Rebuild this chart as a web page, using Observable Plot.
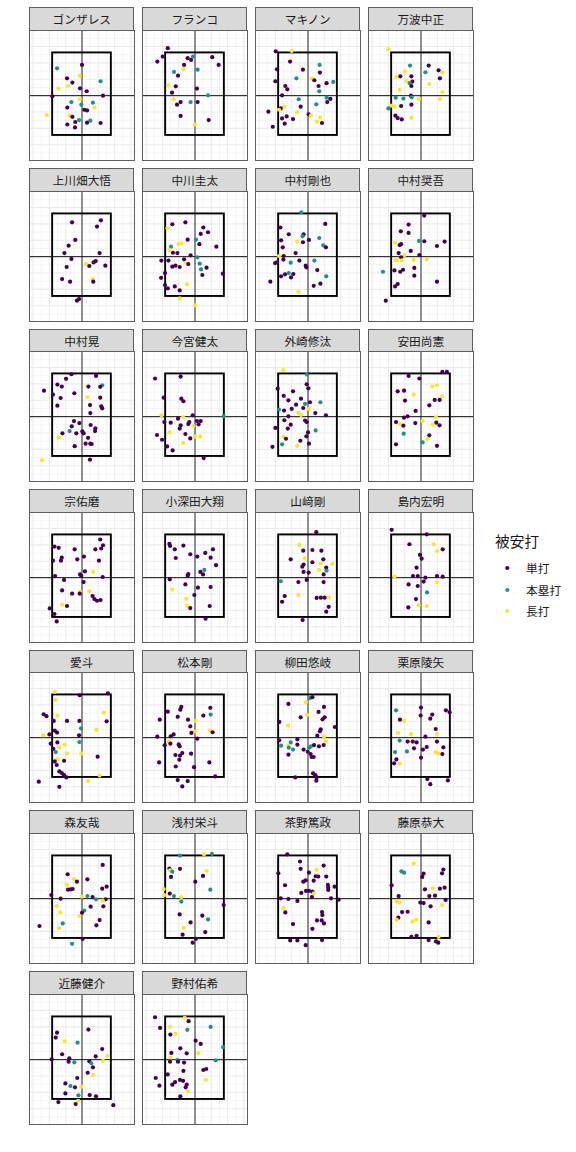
<!DOCTYPE html>
<html>
<head>
<meta charset="utf-8">
<script src="https://cdn.jsdelivr.net/npm/d3@7"></script>
<script src="https://cdn.jsdelivr.net/npm/@observablehq/plot@0.6"></script>
<style>
  html, body { margin: 0; padding: 0; background: #ffffff; }
  #wrap { position: relative; width: 576px; height: 1152px; background: #ffffff;
          font-family: "Noto Sans CJK JP", "Noto Sans", sans-serif; color: #1a1a1a; }
  .strip { position: absolute; box-sizing: border-box; background: #d9d9d9;
           border: 1px solid #5e5e5e; text-align: center; font-size: 11.7px; color: #1a1a1a; }
  .panel { position: absolute; }
  .panel svg { display: block; }
  .legend { position: absolute; left: 495px; top: 528px; width: 80px; height: 100px; }
  .legend .title { position: absolute; left: 0; top: 4px; font-size: 14.7px; line-height: 18px; color: #1a1a1a; white-space: nowrap; }
  .legend .lab { position: absolute; left: 31px; font-size: 11.7px; line-height: 16px; white-space: nowrap; color: #1a1a1a; }
  .legend svg { position: absolute; left: 0; display: block; }
</style>
</head>
<body>
<div id="wrap"></div>
<script>
// ---- data ----
const players = [
  "ゴンザレス", "フランコ", "マキノン", "万波中正",
  "上川畑大悟", "中川圭太", "中村剛也", "中村奨吾",
  "中村晃", "今宮健太", "外崎修汰", "安田尚憲",
  "宗佑磨", "小深田大翔", "山﨑剛", "島内宏明",
  "愛斗", "松本剛", "柳田悠岐", "栗原陵矢",
  "森友哉", "浅村栄斗", "茶野篤政", "藤原恭大",
  "近藤健介", "野村佑希"
];
const hitTypes = ["単打", "本塁打", "長打"];
const hitColors = ["#440154", "#21908C", "#FDE725"];
// strike zone (same units as the pitch locations)
const zoneX = [-18, 18];
const zoneY = [-24.3, 26.1];
const xLimits = [-32.2, 32.2];
const yLimits = [-39.6, 39.8];
const majorTicks = [-30, -20, -10, 0, 10, 20, 30];
const minorTicksX = [-25, -15, -5, 5, 15, 25];
const minorTicksY = [-35, -25, -15, -5, 5, 15, 25, 35];

// pitch locations of hits allowed: [x, y, type index] per player (same order as players)
const hits = [
 [[-15.3,16.7,1],[0,18.8,0],[-1.4,12.2,2],[-9.2,10.6,0],[-5.9,8,0],[11.4,8.8,1],[-14.5,4.3,2],[-8.6,5.9,2],[-1.2,4.5,0],[2.9,2.7,0],[-18.2,-0.4,0],[12.9,0,0],[-1.4,-2.2,2],[-6.5,-3.9,1],[6.7,-4.3,1],[-0.4,-5.5,1],[7.8,-7.3,2],[-9,-7.3,0],[1.4,-8.6,0],[3.1,-9,0],[-21.6,-11.8,2],[-7.6,-12.2,2],[-5.9,-12.9,0],[-1.8,-14.9,1],[5.1,-15.3,1],[-4.1,-16.1,0],[-9,-17.6,0],[3.1,-16.5,0],[11.4,-16.7,0],[-4.3,-19.4,0]],
 [[-16.7,29,0],[-19.8,23.9,0],[-23.1,20.8,0],[-4.5,22.9,0],[-2.4,21.8,0],[-1.2,23.9,1],[10.6,23.5,0],[14.5,18.8,0],[-6.7,18.8,0],[-7.1,16.1,2],[1.6,15.9,1],[-12.9,14.5,1],[-10.4,12.2,0],[-16.5,6.3,2],[-11.8,5.7,0],[1.2,4.3,0],[-14.1,1.8,0],[8,0.2,1],[-13.1,-2.2,2],[-8.8,-3.9,0],[-2.7,-3.9,1],[1.6,-3.9,0],[-11,-5.5,0],[-8.8,-12.4,0],[8.4,-14.9,0],[-0.2,-17.6,2]],
 [[-19.8,27.1,0],[-10,27.3,2],[-11,20.8,0],[7.1,18.8,1],[-19,16.1,0],[-3.1,15.9,0],[7.3,14.1,0],[-7.1,10.6,1],[2.4,10.4,2],[3.9,9.4,0],[-20,8.8,0],[15.5,8.4,1],[11.4,7.6,0],[-13.9,5.9,0],[-12.7,3.9,0],[6.5,5.9,0],[6.9,2.7,1],[-15.9,0.2,0],[11.4,-1.2,1],[13.7,-2,0],[11.8,-3.9,0],[-5.7,-2.2,1],[5.1,-5.3,1],[-4.5,-6.7,0],[-14.7,-6.9,2],[-16.7,-7.8,0],[-17.8,-8.6,2],[-24.3,-9.8,0],[-6.7,-10.2,2],[0.4,-11.4,0],[1.8,-12.2,2],[7.3,-13.3,2],[-13.1,-12.7,0],[-15.9,-13.9,0],[-9.2,-14.3,0],[5.5,-15.9,2],[8.6,-16.7,0],[-14.3,-17.1,0],[-21.6,-19,0]],
 [[-20,28.4,2],[-6.7,18.4,1],[4.7,18.4,0],[-9.8,14.9,2],[2.7,14.3,1],[10.8,15.5,0],[13.1,14.3,2],[-12.7,11.8,0],[-5.9,11.8,0],[-15.3,11.4,2],[11.6,10.6,0],[-8.8,8.8,2],[-5.3,8.6,0],[-6.9,7.6,1],[5.1,7.1,2],[-5.9,5.9,0],[-13.1,3.5,2],[13.1,2.2,2],[-6.1,0,0],[-15.5,-1.2,1],[-10.8,-1.8,1],[-5.7,-1,1],[-1.2,-2,2],[11.6,-2,2],[-18.4,-6.1,2],[-16.3,-6.7,2],[-20,-7.8,1],[-12.2,-6.3,0],[-5.9,-5.5,0],[-15.7,-12.2,0],[-14.3,-13.7,0],[-11.8,-14.5,0],[-5.9,-13.5,2]],
 [[-6.1,21,0],[11.6,22.2,0],[9.2,18.4,0],[-4.1,10.2,0],[-8.2,6.7,0],[-10.8,2.2,0],[10.8,2.2,0],[-6.5,-1.4,0],[8.4,-2.7,0],[7.1,-3.5,0],[2.4,-4.5,2],[4.5,-5.7,0],[14.3,-5.5,0],[-9.4,-6.3,0],[-12.2,-13.7,0],[-7.3,-15.3,0],[6.5,-13.7,2],[6.9,-15.3,0],[-3.1,-26.9,0],[-1.8,-25.9,0]],
 [[-13.9,19.8,0],[-5.9,21,0],[-16.9,17.3,2],[5.1,17.8,0],[8,14.9,0],[3.5,13.9,0],[-4.5,10.4,0],[0.6,10.4,1],[-10,7.6,2],[-8.2,8.2,2],[-14.7,6.1,1],[2.7,7.6,0],[13.1,6.1,0],[-15.7,4.1,2],[-13.5,2.4,0],[-10.8,2.2,0],[-2.7,0.8,0],[1.4,-0.4,1],[-6.7,-1.6,0],[-20.6,-2.4,0],[-16.3,-2.4,0],[2.9,-4.3,1],[-5.5,-3.9,2],[-4.1,-4.5,0],[-13.9,-6.1,0],[-12,-5.5,0],[-9.4,-6.3,0],[7.1,-6.7,0],[3.7,-7.8,1],[-18.4,-10,0],[4.5,-11.2,0],[17.1,-10.4,0],[-20.8,-12.9,0],[-18.4,-17.3,0],[-4.9,-16.9,2],[-16.7,-19.4,0],[-12.4,-18.2,0],[-9.4,-20.6,0],[-9.4,-25.5,2],[0,-29.8,2]],
 [[-4.1,27.1,1],[10.6,20,0],[-16.9,17.8,0],[-11.8,13.7,0],[-2.7,13.7,0],[-3.3,12.4,1],[6.9,11.4,1],[-6.7,9.2,2],[-3.1,8.8,0],[0.6,10.2,0],[9.4,6.9,1],[11,5.7,0],[-16.5,10,0],[-15.5,5.7,0],[-7.6,2.2,0],[-14.9,0.4,0],[-17.8,0.4,2],[-15.1,-1.8,0],[-5.3,-2.4,0],[3.9,-2.4,1],[-10.6,-3.7,1],[-19,-3.5,0],[-20.2,-3.9,0],[-1.4,-5.5,0],[-1,-6.5,0],[5.7,-8.2,0],[-11.8,-10,1],[-14.1,-10.8,0],[-9,-10.6,0],[-16.5,-12,0],[-10.4,-12.7,0],[11.2,-12,1],[-23.1,-15.3,0],[7.6,-16.5,0],[3.5,-17.8,0],[-5.9,-21.4,2]],
 [[2,25.1,0],[-7.6,19.6,0],[-12.4,15.5,0],[-7.6,14.5,0],[-1.2,9.6,1],[2,9.4,0],[14.5,9.2,0],[-12.2,7.6,0],[-15.9,8.4,2],[-13.1,7.1,0],[9.8,6.5,0],[-6.3,3.5,0],[-13.7,2.2,0],[-10.2,1,2],[-1,1,0],[-12.2,-0.4,0],[-15.7,-2.2,2],[-14.7,-2.2,2],[-11.8,-2.2,2],[-4.5,-2,2],[3.5,-1.6,2],[-16.3,-8.4,0],[-12.7,-9.2,0],[-11,-8,0],[-4.1,-6.9,0],[-23.3,-9.2,1],[-4.1,-11.6,0],[9.8,-15.3,0],[-14.3,-16.7,0],[-15.9,-18.2,0],[-21.6,-26.9,0]],
 [[-6.5,25.9,0],[8.6,24.9,0],[-9.8,23.1,0],[12.4,19.2,1],[-15.1,19.6,0],[-12.4,18.4,0],[3.9,18.4,0],[11.2,18.2,0],[-23.3,15.9,0],[-17.8,13.5,0],[-4.7,14.3,0],[3.3,12,2],[-13.1,11.4,0],[11.2,11.6,0],[4.9,7.1,0],[-15.1,6.7,0],[11.8,6.3,0],[12.4,5.1,0],[5.1,2.2,0],[-4.9,-2.7,0],[-1.6,-3.9,0],[-6.3,-5.9,0],[5.3,-5.1,0],[8.2,-7.1,0],[8,-8.8,0],[-7.6,-8.8,1],[-3.5,-10.2,0],[0.2,-9,0],[1,-10.2,0],[-12,-10.2,0],[-14.3,-12.7,2],[3.7,-12.9,0],[2.2,-16.5,0],[5.1,-16.5,0],[5.9,-16.7,0],[-4.5,-18,0],[4.9,-26.3,0],[-24.5,-26.7,2]],
 [[-24.5,23.3,0],[-8.8,24.5,0],[-19.2,11.6,0],[-8.4,11,0],[-7.1,9.4,0],[-20.6,0.8,2],[-7.3,-0.2,2],[-1.4,0.8,0],[-10.4,-1.2,0],[-18.8,-3.3,0],[-14.9,-3.7,0],[-4.1,-4.5,0],[-3.5,-3.3,0],[1.2,-2.7,0],[3.5,-2.7,0],[2.2,-4.7,0],[17.6,0.2,1],[-1,-5.7,2],[-8.8,-5.3,0],[-9.4,-7.3,0],[-15.7,-9.6,2],[-5.9,-10.6,0],[-23.3,-11.2,0],[0,-12.2,2],[3.1,-12.2,2],[-2.9,-13.3,0],[-20.2,-14.1,0],[-7.3,-16.1,2],[-17.1,-18.2,0],[-13.7,-20.6,0],[5.3,-25.3,0]],
 [[-15.1,28.4,2],[-0.6,25.7,1],[-0.8,19.8,0],[0.2,17.3,0],[-18.6,17.1,0],[-9.2,15.5,0],[-14.9,12.7,0],[-4.3,11,0],[-12,10,0],[1.2,8.8,0],[7.6,8.8,1],[-1.8,7.8,1],[-7.3,7.3,0],[-10,4.7,0],[0.6,4.7,2],[-2.9,5.3,0],[4.5,2.2,0],[-5.9,2.4,2],[-4.3,1,2],[-17.8,4.3,1],[-14.7,3.7,0],[-12,0.2,0],[11,0.8,0],[-14.5,-2.2,0],[-1.8,-2.4,0],[-0.8,-3.3,0],[-10.6,-4.9,0],[-20,-6.9,0],[-12.4,-7.3,0],[4.7,-8.4,1],[0,-9.6,0],[-15.1,-12.2,2],[-13.5,-13.5,0],[-1,-12,0],[-4.7,-14.7,0],[0.6,-16.5,0],[-15.9,-16.9,1],[-21.8,-18.4,0],[-6.7,-17.8,2]],
 [[13.1,27.3,0],[15.9,27.3,0],[-7.6,24.9,0],[-1,23.3,0],[6.9,18.4,2],[9.8,19.2,2],[-14.3,15.5,0],[-10.4,15.9,0],[-4.5,13.5,2],[12.9,12.4,2],[8.4,10.2,0],[11.4,10.2,0],[-9.8,9.8,0],[5.1,6.9,0],[-3.3,3.5,0],[-8.2,0.2,0],[-10.4,-0.6,0],[9.2,-0.2,2],[-15.3,-3.3,0],[-13.1,-4.5,2],[-10.8,-5.5,0],[-3.5,-3.9,0],[1,-2.7,2],[9.4,-3.7,0],[11.4,-5.3,0],[7.1,-4.9,2],[-10.6,-10.4,1],[5.1,-11.4,0],[3.9,-13.7,2],[1,-15.7,1],[-15.3,-16.9,0],[9.8,-17.8,0]],
 [[11.2,23.3,0],[12.9,19.8,0],[11.8,17.8,0],[-16.9,19,0],[-14.3,18.2,0],[-4.5,17.3,0],[8.2,17.3,0],[1.2,12.9,0],[-12.4,12.2,0],[-12.9,10.4,0],[-17.8,10.4,0],[-2.9,11.2,0],[10.4,10.4,0],[1.8,3.9,0],[6.9,3.5,2],[-1.2,2,0],[-0.4,1,0],[-16.5,1,0],[12.7,0.4,0],[-11,-1.4,0],[1,-2.7,0],[-12.2,-7.8,0],[4.5,-8.2,2],[-1.2,-8.6,2],[-6.1,-9.8,0],[-1.4,-9.8,0],[6.5,-11.2,0],[7.6,-13.1,0],[9.2,-14.1,0],[11.4,-13.7,0],[-12.2,-16.5,2],[-9.2,-17.3,0],[-19.8,-18.8,0],[-16.9,-22.2,0],[-15.5,-26.7,0]],
 [[-15.7,20.6,0],[-15.3,19.4,0],[-7.1,19.6,0],[-12.4,17.3,0],[11,17.3,0],[6.3,15.1,0],[-2.9,14.3,0],[1.4,12.9,0],[9.6,12.2,0],[-11.8,12,0],[12.9,7.6,0],[5.7,4.7,1],[3.3,3.5,0],[4.9,2,0],[-4.1,2.2,0],[-4.5,1.2,0],[-15.5,-1,0],[-5.9,-4.1,0],[1.8,-6.1,0],[9.6,-5.7,0],[-13.9,-7.3,2],[-0.4,-10.6,0],[-5.3,-12.9,2],[-4.9,-17.1,2],[-2.9,-18.6,0],[9,-17.3,0],[6.5,-25.1,0]],
 [[5.1,27.8,0],[-5.3,20,2],[-2.9,16.5,0],[2.7,16.9,0],[8.2,16.5,0],[-2.2,12,2],[-10.6,11.2,0],[9.4,11.2,0],[2.7,9.4,0],[7.8,8.6,2],[14.9,8.4,2],[-2.7,8,0],[-3.5,6.7,0],[11.2,6.1,0],[6.7,4.7,2],[11.4,4.3,1],[-2.7,3.5,0],[0.4,3.1,0],[9.6,2,0],[-16.7,-2.2,1],[-5.9,-2.7,0],[-0.8,-1.4,0],[9.6,-2.7,0],[-14.3,-11.2,0],[-15.9,-14.7,0],[-5.9,-10.6,2],[5.3,-12.4,0],[7.9,-12.2,0],[10.2,-12.2,0],[12.9,-12.2,2],[12.7,-17.8,0],[11.2,-20.8,0],[-3.3,-25.9,0]],
 [[-18,29.2,0],[3.5,26.5,0],[-7.1,20.4,0],[7.8,20.4,2],[9.8,16.3,2],[13.3,17.3,0],[-0.6,13.9,0],[0.4,11.6,0],[-2.7,6.1,0],[-16.3,0.6,2],[-4.9,1,0],[-2,1,0],[2.7,0,0],[9.8,1,0],[13.3,0.6,0],[1.6,-2.4,0],[9.8,-2.7,2],[-7.6,-4.1,0],[-2,-5.1,0],[3.7,-9,1],[-3.1,-13.1,0],[-1.4,-16.9,2],[3.5,-17.3,2],[-7.8,-18.2,0]],
 [[-16.7,28,2],[-1.4,25.9,0],[15.9,27.1,0],[-16.3,23.1,2],[-23.5,14.3,0],[-21.8,13.1,0],[-15.1,13.5,2],[13.3,15.3,2],[-17.3,10.2,0],[-9.2,10.2,0],[-1.6,10.2,0],[15.1,10,0],[-0.6,5.7,1],[8.8,4.7,2],[-16.7,4.3,0],[-15.3,3.1,0],[-20,2,0],[-23.7,1.4,2],[-1.8,1.4,0],[-1.6,-2.7,1],[-19.2,-3.7,0],[-15.1,-2.9,0],[-10.6,-4.3,2],[-13.9,-5.9,2],[-17.6,-6.9,0],[-16.1,-8.8,1],[-9.2,-9.8,2],[-0.4,-9.6,2],[9.6,-11.6,0],[-14.9,-13.1,2],[-11,-14.1,0],[-16.7,-14.5,0],[-15.5,-16.7,0],[-13.9,-20.6,0],[-12.4,-21.6,0],[-11,-22.9,0],[-9.6,-24.3,0],[10.8,-23.1,2],[3.7,-26.5,2],[-26.5,-26.9,0],[-13.9,-30,0]],
 [[-8.4,18.8,0],[-9,17.1,0],[9.4,18.2,0],[9.6,14.1,1],[5.1,13.5,0],[-16.7,15.9,0],[-10.6,12.7,0],[-4.3,11,0],[-21.6,11,0],[0.4,10.2,2],[-2.9,6.9,0],[-0.2,3.9,2],[-2.2,2.9,0],[9.2,4.5,2],[10.8,3.3,0],[-13.1,2,0],[-14.9,0.8,0],[-23.1,0.6,0],[1.4,-0.6,0],[-16.1,-2.2,2],[-15.1,-3.7,0],[-10,-4.1,0],[-9.4,-5.3,0],[-18.6,-4.7,0],[-7.8,-9.4,0],[-2.4,-9.8,0],[-12,-10.6,0],[-9.2,-11,0],[-9.6,-13.5,0],[-22,-15.1,0],[8.8,-15.1,0],[-11.8,-17.6,0],[-0.6,-18,0],[12.4,-23.7,0],[-10.6,-25.9,0],[-4.5,-26.5,0],[-7.8,-29.8,0]],
 [[1.2,24.1,1],[2.7,24.7,0],[-1.4,21.6,2],[-12,20.6,0],[9.8,18.8,0],[6.5,15.7,0],[10.2,12.4,0],[8.9,11.2,0],[-4.5,12.4,0],[-0.6,13.9,2],[-17.6,9.6,0],[-12.2,7.3,2],[16.5,6.5,0],[7.8,5.1,0],[7.3,3.9,0],[5.7,1.2,0],[9.8,0.6,2],[-6.5,-1,0],[-17.6,-1.6,0],[-10.6,-2.9,1],[11,-2.4,2],[-16.5,-4.9,1],[-12,-4.9,2],[-11.8,-6.1,1],[-9.2,-7.3,1],[-6.5,-4.3,0],[-2.7,-7.3,0],[0.8,-6.1,1],[1.8,-5.3,1],[3.7,-4.5,0],[6.7,-5.3,0],[9.6,-4.5,0],[-0.2,-8.6,0],[1.6,-10,0],[3.5,-11.8,0],[2.2,-11.8,0],[-12,-10.4,0],[3.1,-21.8,0],[4.5,-22.9,0],[5.3,-24.3,0],[5.1,-26.3,0],[-7.8,-24.3,0]],
 [[-15.3,16.7,1],[0,18.4,0],[15.3,16.7,0],[17.6,15.5,0],[6.9,14.1,0],[-0.2,13.5,0],[5.7,11.6,0],[-12.9,11,0],[-10.4,10.2,2],[9,5.3,0],[-14.1,2.9,2],[-6.1,2.2,2],[9.8,2.2,2],[2.7,0.6,0],[-13.1,-1.8,1],[-8.2,-2.4,0],[-5.1,-2.4,0],[-2.7,-2.9,0],[9.8,-2.4,0],[-4.3,-6.5,0],[1.2,-7.3,0],[3.5,-5.7,0],[13.7,-5.9,0],[-15.9,-8.8,1],[-8.6,-8.4,1],[9,-8.8,2],[10.8,-9.6,2],[13.1,-10,0],[0,-12.2,0],[-15.1,-13.3,0],[-16.5,-15.7,0],[-13.1,-15.9,2],[3.9,-25.3,0],[16.5,-26.1,0],[5.7,-28.4,0]],
 [[12.7,20.6,0],[-8.8,14.9,0],[-4.9,12,2],[-3.1,10.4,0],[3.3,11.8,0],[-9.4,8.4,2],[-8.6,5.5,0],[-6.9,5.7,0],[-5.7,5.9,0],[12.4,6.1,0],[15.1,7.3,0],[-18.8,2.2,0],[3.3,1.6,1],[-0.2,1.2,2],[6.5,1,0],[8.6,-0.4,1],[14.5,-0.4,0],[-13.1,0,0],[12.7,-1.2,2],[-15.5,-4.5,2],[5.3,-4.9,0],[13.1,-4.7,0],[-13.3,-8.4,2],[1.4,-7.3,1],[0,-8.6,0],[-1.6,-10.6,2],[10.8,-13.1,0],[-11.8,-15.1,1],[8.8,-16.3,0],[-14.1,-18,2],[-26.1,-16.7,0],[0.4,-24.5,0],[-6.1,-27.6,1]],
 [[-9.2,26.3,1],[5.5,27.1,2],[10.4,27.3,1],[-15.7,18.4,0],[-15.3,17.3,2],[-13.9,16.5,1],[-9.2,18.2,0],[7.1,16.9,2],[-14.7,13.3,0],[4.9,13.9,0],[0.2,10.4,0],[-19.2,5.9,2],[9.4,5.5,1],[-18.8,2.2,2],[-15.5,3.1,0],[-12.9,1.6,1],[-8.4,1,2],[-8.4,-1.8,1],[17.6,-3.9,0],[-9.4,-9.6,0],[4.5,-10.4,0],[8,-12.7,1],[-2.7,-14.5,0],[-6.9,-17.8,2],[6.3,-20.4,0],[-7.6,-22,0],[0.6,-24.5,0],[-1.4,-26.9,0]],
 [[-12.7,27.1,0],[-4.9,22.7,0],[-4.5,18.2,0],[9.6,20.2,0],[5.3,17.6,2],[-18.2,15.5,0],[0.6,15.9,0],[4.7,13.7,0],[6.3,13.5,0],[11.2,13.5,0],[-1.4,11.2,0],[-2.9,10.4,0],[3.5,11,0],[12.2,8.4,0],[16.3,7.3,0],[-14.1,8.2,0],[12.4,6.7,0],[12.4,5.3,0],[-1.2,4.7,0],[0.6,4.7,0],[2.7,4.3,0],[-4.1,3.5,0],[3.5,3.1,2],[-16.7,0.2,0],[-12,-0.2,0],[-6.5,-1.4,0],[2.4,1,0],[14.1,0.2,0],[18.8,-0.6,0],[-15.1,-5.7,2],[-13.9,-8.4,0],[8.6,-8.2,0],[8.8,-10,0],[5.5,-13.3,0],[8.4,-13.3,0],[9.8,-15.1,0],[-9.2,-15.5,0],[2.7,-18.4,0],[-10.9,-25.5,0],[-6.5,-25.5,0],[8.6,-25.3,0],[-1.4,-28.4,0]],
 [[-4.5,21.6,2],[13.7,17.8,0],[12.9,15.5,0],[-12,16.7,1],[-10.4,15.9,1],[1.6,15.3,0],[0.8,13.3,0],[-18,8.2,0],[14.5,6.7,0],[11.6,6.1,0],[7.3,6.5,2],[2.4,5.7,0],[8.6,1.8,0],[5.1,1.6,0],[-13.7,1.6,0],[15.1,-0.8,0],[-14.9,-1.6,2],[-13.1,-2.4,2],[-0.4,-2.4,0],[1.6,-2.7,0],[5.9,-4.7,0],[12.9,-3.9,2],[-11.6,-8.2,0],[-8.2,-8,0],[-13.9,-11.6,0],[-14.9,-12.9,2],[-5.3,-13.9,2],[-2.9,-12.9,2],[4.7,-14.5,0],[-5.9,-23.3,0],[-2.7,-22.7,0],[10.8,-23.3,2],[4.7,-25.3,0],[9.2,-26.1,0],[10.6,-26.9,0]],
 [[3.9,18.4,0],[-15.3,16.5,0],[-16.1,13.5,0],[-10.6,11.2,2],[-2.7,10.4,1],[12.4,6.5,0],[15.5,2.4,2],[8.4,2,0],[-12.2,3.3,0],[-7.8,0.8,0],[-18.6,0.2,0],[-8.2,-1.2,0],[-4.7,-1.6,1],[4.5,-1,0],[5.7,-2.2,1],[12.9,-0.8,2],[6.7,-4.7,0],[3.5,-8,0],[6.9,-9.4,2],[-2.9,-11.2,0],[-10.2,-14.5,0],[-7.1,-16.1,1],[-4.3,-16.9,0],[-0.4,-16.5,2],[-10.2,-20.6,0],[-2.2,-21.8,1],[4.7,-21.6,0],[8.6,-22.4,0],[-2.4,-25.1,2],[-14.5,-25.9,0],[-3.9,-27.1,0],[19.2,-27.8,0]],
 [[-6.3,25.5,2],[-24.5,25.9,0],[-3.9,23.5,0],[-21.4,19.4,0],[-15.3,20,2],[9.6,20,1],[-4.7,18.2,1],[-12,15.7,2],[-15.1,15.3,0],[0.4,11.6,0],[3.5,9.6,0],[17.3,7.6,1],[-9,6.9,0],[-14.5,4.1,0],[-5.1,3.9,0],[2,3.9,2],[-15.1,1.2,2],[-15.3,-1.2,0],[-10.8,-0.2,1],[-10.4,-1.2,0],[-6.7,-1.8,0],[12.7,-0.4,1],[5.1,-6.3,0],[6.9,-5.7,0],[-7.1,-6.9,0],[-16.7,-9,0],[-24.1,-11.2,0],[6.7,-12.4,2],[-9.2,-12.4,0],[-7.3,-12.9,0],[-12.2,-13.7,0],[-13.9,-15.3,0],[-5.1,-15.3,0],[-5.7,-16.9,0],[-21.8,-15.9,0],[-4.3,-19.4,2],[-9,-22.4,0]]
];

// ---- layout ----
const ncol = 4;
const panelW = 105, panelH = 130, stripH = 22.7;
const colStep = 113, rowStep = 160.6;
const left0 = 29.3, top0 = 7.3;

const wrap = document.getElementById("wrap");

players.forEach((name, i) => {
  const col = i % ncol, row = Math.floor(i / ncol);
  const left = left0 + col * colStep;
  const top = top0 + row * rowStep;

  const strip = document.createElement("div");
  strip.className = "strip";
  strip.style.left = left + "px";
  strip.style.top = top + "px";
  strip.style.width = panelW + "px";
  strip.style.height = (stripH + 1) + "px";
  strip.style.lineHeight = (stripH - 1) + "px";
  strip.textContent = name;
  wrap.appendChild(strip);

  const data = hits[i].map(([x, y, t]) => ({x, y, type: hitTypes[t]}));

  const chart = Plot.plot({
    width: panelW,
    height: panelH,
    margin: 0,
    style: {background: "#ffffff", overflow: "visible"},
    x: {domain: xLimits, axis: null},
    y: {domain: yLimits, axis: null},
    color: {domain: hitTypes, range: hitColors},
    marks: [
      Plot.ruleX(minorTicksX, {stroke: "#ebebeb", strokeWidth: 0.55}),
      Plot.ruleY(minorTicksY, {stroke: "#ebebeb", strokeWidth: 0.55}),
      Plot.ruleX(majorTicks, {stroke: "#ebebeb", strokeWidth: 1.1}),
      Plot.ruleY(majorTicks, {stroke: "#ebebeb", strokeWidth: 1.1}),
      Plot.ruleX([0], {stroke: "#2b2b2b", strokeWidth: 1}),
      Plot.ruleY([0], {stroke: "#111111", strokeWidth: 1}),
      Plot.rect([{x1: zoneX[0], x2: zoneX[1], y1: zoneY[0], y2: zoneY[1]}],
        {x1: "x1", x2: "x2", y1: "y1", y2: "y2", fill: "none", stroke: "#000000", strokeWidth: 1.9}),
      Plot.dot(data, {x: "x", y: "y", fill: "type", r: 2.1, stroke: "none"}),
      Plot.frame({stroke: "#5e5e5e", strokeWidth: 1})
    ]
  });

  const holder = document.createElement("div");
  holder.className = "panel";
  holder.style.left = left + "px";
  holder.style.top = (top + stripH) + "px";
  holder.appendChild(chart);
  wrap.appendChild(holder);
});

// ---- legend ----
const legend = document.createElement("div");
legend.className = "legend";
const title = document.createElement("div");
title.className = "title";
title.textContent = "被安打";
legend.appendChild(title);
const svgNS = "http://www.w3.org/2000/svg";
const itemCenters = [40.3, 61.7, 83];
hitTypes.forEach((t, k) => {
  const cy = itemCenters[k];
  const svg = document.createElementNS(svgNS, "svg");
  svg.setAttribute("width", 24);
  svg.setAttribute("height", 16);
  svg.style.top = (cy - 8) + "px";
  const c = document.createElementNS(svgNS, "circle");
  c.setAttribute("cx", 12.3);
  c.setAttribute("cy", 8);
  c.setAttribute("r", 2.1);
  c.setAttribute("fill", hitColors[k]);
  svg.appendChild(c);
  legend.appendChild(svg);
  const lab = document.createElement("div");
  lab.className = "lab";
  lab.style.top = (cy - 8) + "px";
  lab.textContent = t;
  legend.appendChild(lab);
});
wrap.appendChild(legend);
</script>
</body>
</html>
